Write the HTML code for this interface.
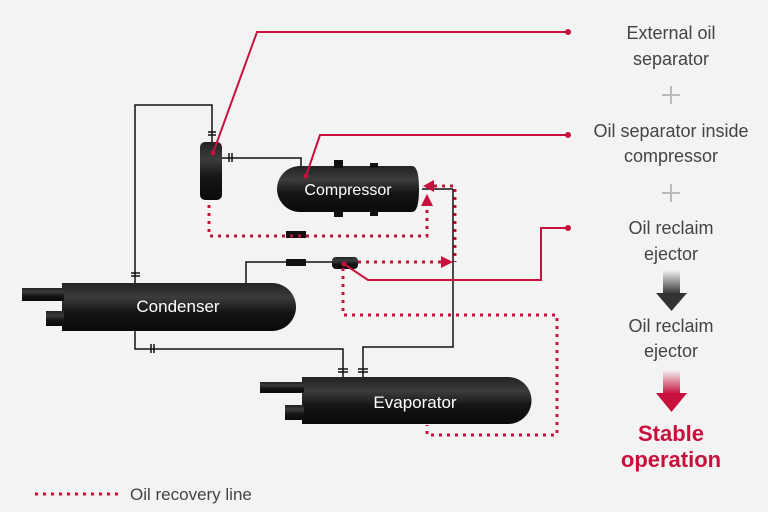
<!DOCTYPE html>
<html><head><meta charset="utf-8"><style>
html,body{margin:0;padding:0;background:#f3f3f3}
svg{display:block}
text{font-family:"Liberation Sans",sans-serif}
</style></head><body>
<svg width="768" height="512" viewBox="0 0 768 512" xmlns="http://www.w3.org/2000/svg">
<defs>
<linearGradient id="tank" x1="0" y1="0" x2="0" y2="1">
<stop offset="0" stop-color="#222"/><stop offset="0.3" stop-color="#3c3c3c"/><stop offset="0.6" stop-color="#151515"/><stop offset="1" stop-color="#0a0a0a"/></linearGradient>
<linearGradient id="ga" x1="0" y1="0" x2="0" y2="1"><stop offset="0" stop-color="#f3f3f3"/><stop offset="1" stop-color="#333"/></linearGradient>
<linearGradient id="ra" x1="0" y1="0" x2="0" y2="1"><stop offset="0" stop-color="#f3f3f3"/><stop offset="1" stop-color="#c8103c"/></linearGradient>
</defs>
<rect width="768" height="512" fill="#f3f3f3"/>
<g fill="none" stroke="#111" stroke-width="1.5">
<path d="M212 142 V105 H135 V283"/>
<path d="M222 158 H301 V168"/>
<path d="M332 262 H246 V283"/>
<path d="M135 330 V349 H343 V377"/>
<path d="M453 189 H422 M453 189 V347 H363 V377"/>
<path d="M208 132 h8 M208 135 h8 M229 153 v9 M232 153 v9 M131 273 h9 M131 276 h9 M151 344 v9 M154 344 v9 M338 369 h10 M338 372 h10 M358 369 h10 M358 372 h10"/>
</g>
<rect x="200" y="142" width="22" height="58" rx="5" fill="url(#tank)"/>
<path d="M300 166 H412 Q419 166 419 189 Q419 212 412 212 H300 A23 23 0 0 1 300 166 Z" fill="url(#tank)"/>
<rect x="334" y="160" width="9" height="8" fill="#111"/><rect x="370" y="163" width="8" height="5" fill="#111"/>
<rect x="334" y="210" width="9" height="7" fill="#111"/><rect x="370" y="210" width="8" height="6" fill="#111"/>
<text x="348" y="195" font-size="16" fill="#fff" text-anchor="middle">Compressor</text>
<path d="M62 283 H272 A24 24 0 0 1 272 331 H62 Z" fill="url(#tank)"/>
<rect x="22" y="288" width="42" height="13" fill="url(#tank)"/>
<rect x="46" y="311" width="18" height="15" fill="url(#tank)"/>
<text x="178" y="312" font-size="17" fill="#fff" text-anchor="middle">Condenser</text>
<path d="M302 377 H508 A23.5 23.5 0 0 1 508 424 H302 Z" fill="url(#tank)"/>
<rect x="260" y="382" width="44" height="11" fill="url(#tank)"/>
<rect x="285" y="405" width="19" height="15" fill="url(#tank)"/>
<text x="415" y="408" font-size="17" fill="#fff" text-anchor="middle">Evaporator</text>
<rect x="332" y="257" width="26" height="12" rx="4" fill="url(#tank)"/>
<rect x="286" y="259" width="20" height="7" fill="#111"/>
<rect x="286" y="231" width="20" height="7" fill="#111"/>
<g fill="none" stroke="#c8103c" stroke-width="3" stroke-dasharray="3 5">
<path d="M209 205 V236 H427 V205"/>
<path d="M358 262 H442"/>
<path d="M434 186 H455 V262"/>
<path d="M343 268 V315 H557 V435 H427 V425"/>
<path d="M35 494 H120"/>
</g>
<g fill="#c8103c">
<path d="M427 194 L421 206 L433 206 Z"/>
<path d="M423 186 L434 180 L434 192 Z"/>
<path d="M453 262 L441 256 L441 268 Z"/>
</g>
<g fill="none" stroke="#c8103c" stroke-width="2">
<path d="M213 153 L257 32 H568"/>
<path d="M306 176 L320 135 H568"/>
<path d="M344 264 L368 280 H541 V228 H568"/>
</g>
<g fill="#c8103c">
<circle cx="568" cy="32" r="3"/><circle cx="568" cy="135" r="3"/><circle cx="568" cy="228" r="3"/>
<circle cx="213" cy="153" r="2.5"/><circle cx="306" cy="176" r="2.5"/><circle cx="344" cy="264" r="2.5"/>
</g>
<g font-size="18" fill="#444" text-anchor="middle">
<text x="671" y="39">External oil</text>
<text x="671" y="65">separator</text>
<text x="671" y="137">Oil separator inside</text>
<text x="671" y="162">compressor</text>
<text x="671" y="234">Oil reclaim</text>
<text x="671" y="260">ejector</text>
<text x="671" y="332">Oil reclaim</text>
<text x="671" y="357">ejector</text>
</g>
<g stroke="#bbb" stroke-width="2"><path d="M662 95 H680 M671 86 V104 M662 193 H680 M671 184 V202"/></g>
<rect x="663" y="270" width="17" height="24" fill="url(#ga)"/>
<path d="M656 293 H687 L671.5 311 Z" fill="#333"/>
<rect x="663" y="370" width="17" height="24" fill="url(#ra)"/>
<path d="M656 393 H687 L671.5 412 Z" fill="#c8103c"/>
<g font-size="22" font-weight="bold" fill="#c8103c" text-anchor="middle">
<text x="671" y="441">Stable</text>
<text x="671" y="467">operation</text>
</g>
<text x="130" y="500" font-size="17" fill="#444">Oil recovery line</text>
</svg>
</body></html>
